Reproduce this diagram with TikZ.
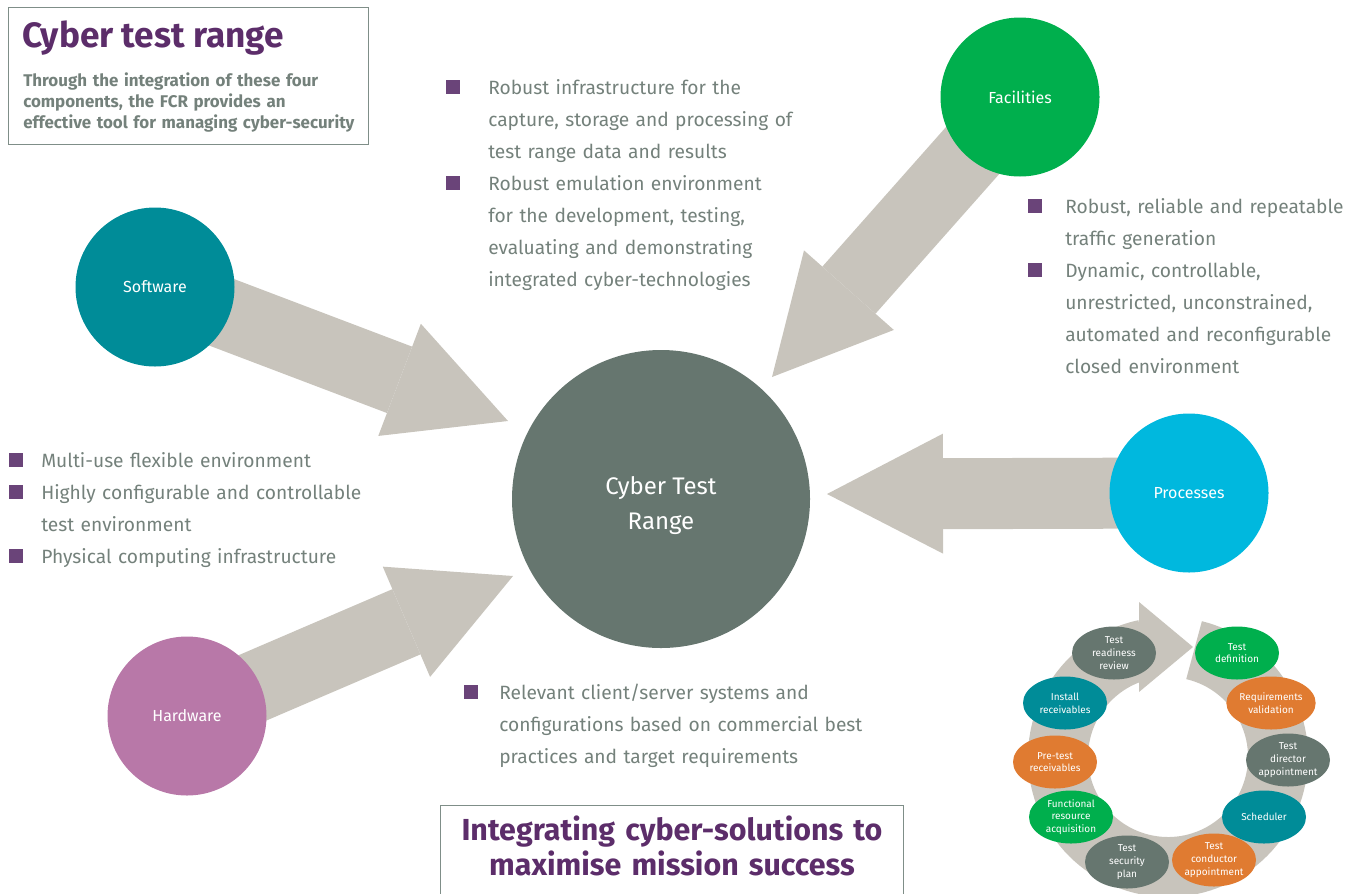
\documentclass[tikz,border=0pt]{standalone}
\usepackage{fontspec}
\setmainfont{Fira Sans}
\usepackage{tikz}
\usetikzlibrary{arrows.meta,shapes.geometric,backgrounds}

\definecolor{rangegray}{HTML}{66766F}
\definecolor{textgray}{HTML}{74817B}
\definecolor{flowgray}{HTML}{C8C4BC}
\definecolor{titlepurple}{HTML}{5C2D6A}
\definecolor{bulletpurple}{HTML}{6A4479}
\definecolor{swteal}{HTML}{008C98}
\definecolor{facgreen}{HTML}{00AF4D}
\definecolor{proccyan}{HTML}{00B8DE}
\definecolor{hwpink}{HTML}{B878A8}
\definecolor{phaseorange}{HTML}{E07B31}
\definecolor{framegray}{HTML}{7F8E88}

\newlength\sqindent
\newcommand{\sqitem}[1]{\noindent\hangindent=\sqindent\hangafter=1%
\makebox[\sqindent][l]{\textcolor{bulletpurple}{\rule{10.5pt}{10.5pt}}}#1\par}

\begin{document}
\begin{tikzpicture}[x=0.75pt,y=-0.75pt,
comp/.style={circle,inner sep=0pt,minimum size=119.25pt,text=white,align=center,font=\fontsize{12}{14}\selectfont},
flow/.style={draw=flowgray,line width=53.25pt,-{Triangle[length=87pt,width=90pt,line width=0pt]}},
bul/.style={anchor=base west,inner sep=0pt,text width=330pt,align=left,text=textgray,font=\fontsize{14.4}{24}\selectfont},
phase/.style={ellipse,inner sep=0pt,minimum width=63pt,minimum height=39.75pt,text=white,align=center,font=\fontsize{7.5}{9.5}\selectfont},
boxline/.style={draw=framegray,line width=0.9pt}]
\useasboundingbox (0,0) rectangle (1358,893);

% the range and its four components
\node[comp,fill=rangegray,minimum size=223.5pt,font=\fontsize{18}{26}\selectfont] (range) at (661,499) {\\[-3pt]Cyber Test\\Range};
\node[comp,fill=swteal] (sw) at (155,287) {Software};
\node[comp,fill=facgreen] (fac) at (1020,97) {Facilities};
\node[comp,fill=proccyan] (proc) at (1189,493) {Processes};
\node[comp,fill=hwpink] (hw) at (187,716) {Hardware};

\coordinate (swtip) at (508,421);
\coordinate (factip) at (772,377);
\coordinate (proctip) at (827,494);
\coordinate (hwtip) at (513,576);
\begin{scope}[on background layer]
\draw[flow] (sw.center)--(swtip);
\draw[flow] (fac.center)--(factip);
\draw[flow] (proc.center)--(proctip);
\draw[flow] (hw.center)--(hwtip);
\end{scope}

% heading boxes
\node[boxline,anchor=north west,inner sep=0pt,minimum width=270pt,minimum height=102.75pt] (intro) at (8,7) {};
\node[anchor=base west,inner sep=0pt,text=titlepurple,font=\bfseries\fontsize{26.4}{30}\selectfont] (head) at (22,47) {Cyber test range};
\node[anchor=base west,inner sep=0pt,text width=265pt,align=left,text=textgray,font=\bfseries\fontsize{12.7}{16}\selectfont] (lead) at (23,86)
{Through the integration of these four\\components, the FCR provides an\\effective tool for managing cyber-security};
\node[boxline,anchor=north west,inner sep=0pt,minimum width=347.25pt,minimum height=80pt] (motto) at (440,805) {};
\node[anchor=base,inner sep=0pt,text width=340pt,align=center,text=titlepurple,font=\bfseries\fontsize{22.8}{26.25}\selectfont] (mottotext) at (672,840)
{Integrating cyber-solutions to\\maximise mission success};

% bullet lists
\node[bul] (infralist) at (446,94) {\setlength\sqindent{31.5pt}%
\sqitem{Robust infrastructure for the\newline capture, storage and processing of\newline test range data and results}%
\sqitem{Robust emulation environment\newline for the development, testing,\newline evaluating and demonstrating\newline integrated cyber-technologies}};
\node[bul] (trafficlist) at (1028,213) {\setlength\sqindent{27.75pt}%
\sqitem{Robust, reliable and repeatable\newline traffic generation}%
\sqitem{Dynamic, controllable,\newline unrestricted, unconstrained,\newline automated and reconfigurable\newline closed environment}};
\node[bul] (envlist) at (9,467) {\setlength\sqindent{24pt}%
\sqitem{Multi-use flexible environment}%
\sqitem{Highly configurable and controllable\newline test environment}%
\sqitem{Physical computing infrastructure}};
\node[bul] (clientlist) at (464,699) {\setlength\sqindent{26.25pt}%
\sqitem{Relevant client/server systems and\newline configurations based on commercial best\newline practices and target requirements}};

% test cycle
\draw[flowgray,line width=45pt] (1168,757) ++(-76.3:110) arc[start angle=-76.3,end angle=258,radius=110];
\fill[flowgray] (1139,602)--(1193,647)--(1139,692)--cycle;
\node[phase,fill=rangegray] (review) at (1114,653) {Test\\readiness\\review};
\node[phase,fill=facgreen] (definition) at (1237,653) {Test\\definition};
\node[phase,fill=phaseorange] (validation) at (1271,703) {Requirements\\validation};
\node[phase,fill=rangegray] (director) at (1288,760) {Test\\director\\appointment};
\node[phase,fill=swteal] (scheduler) at (1264,817) {Scheduler};
\node[phase,fill=phaseorange] (conductor) at (1214,860) {Test\\conductor\\appointment};
\node[phase,fill=rangegray] (security) at (1127,862) {Test\\security\\plan};
\node[phase,fill=facgreen] (resource) at (1071,817) {Functional\\resource\\acquisition};
\node[phase,fill=phaseorange] (pretest) at (1055,762) {Pre-test\\receivables};
\node[phase,fill=swteal] (install) at (1065,703) {Install\\receivables};
\end{tikzpicture}
\end{document}
